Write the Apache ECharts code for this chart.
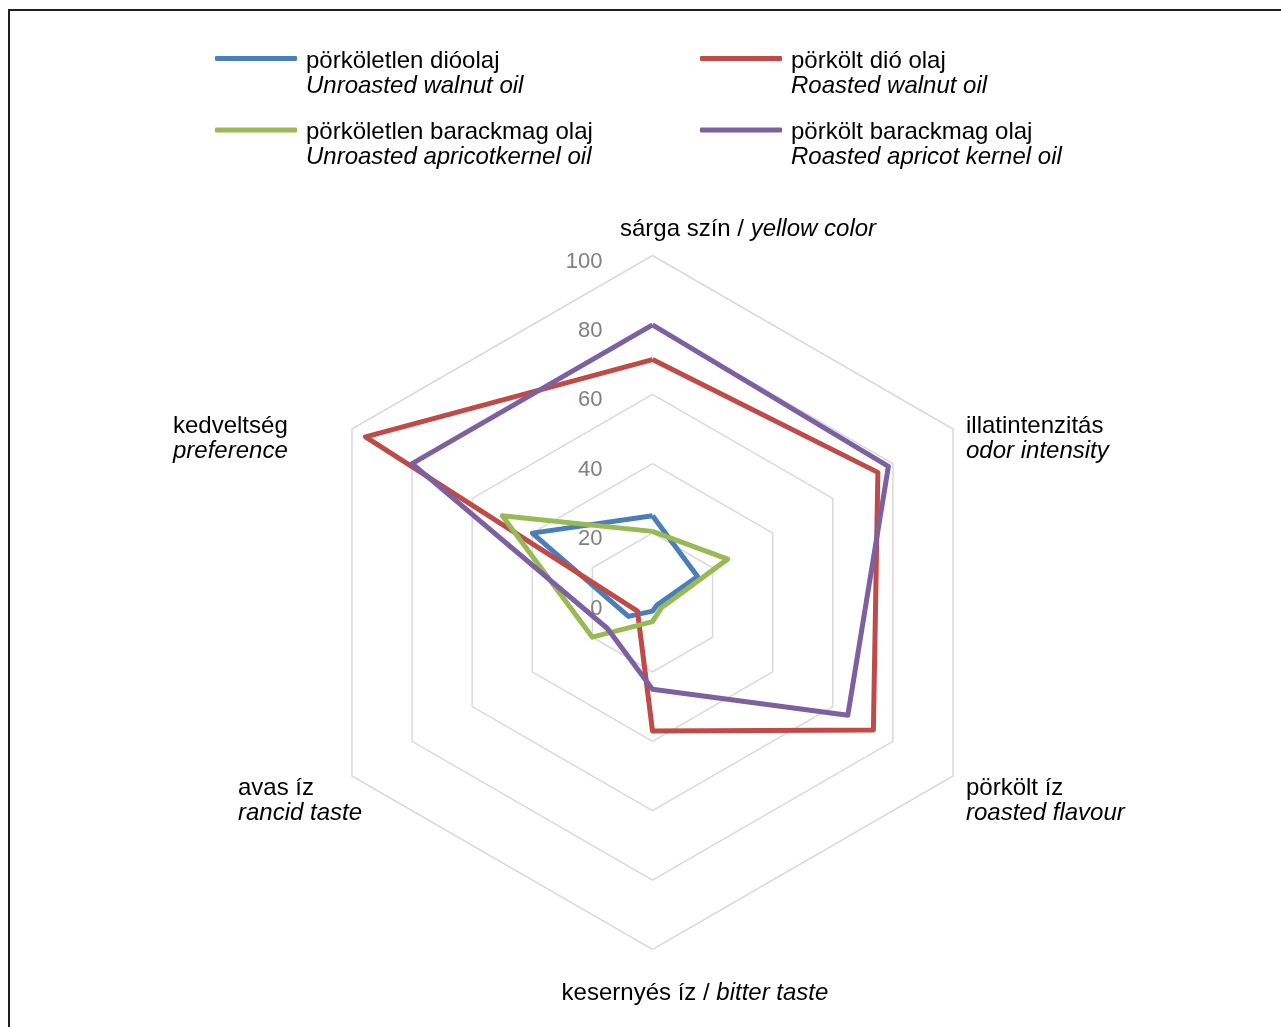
<!DOCTYPE html>
<html>
<head>
<meta charset="utf-8">
<script src="https://cdn.jsdelivr.net/npm/echarts@6/dist/echarts.min.js"></script>
<style>
  html, body { margin: 0; padding: 0; background: #fff; }
  #chart-box { width: 1281px; height: 1027px; }
</style>
</head>
<body>
<div id="chart-box"></div>
<script>
// tengelyek (az ECharts sorrendjében: felül kezdve, az óramutatóval ellentétesen)
var indicatorHu = ['sárga szín', 'kedveltség', 'avas íz', 'kesernyés íz', 'pörkölt íz', 'illatintenzitás'];
var indicatorEn = ['yellow color', 'preference', 'rancid taste', 'bitter taste', 'roasted flavour', 'odor intensity'];
var scaleMin = 0, scaleMax = 100, scaleSplit = 5;

// sorozatok
var seriesHu = ['pörköletlen dióolaj', 'pörkölt dió olaj', 'pörköletlen barackmag olaj', 'pörkölt barackmag olaj'];
var seriesEn = ['Unroasted walnut oil', 'Roasted walnut oil', 'Unroasted apricotkernel oil', 'Roasted apricot kernel oil'];
var seriesColor = ['#4a7ebb', '#be4b48', '#98b954', '#7d60a0'];

var unroastedWalnut  = [25, 40, 8, 2.5, 1.5, 15];
var roastedWalnut    = [70, 95.5, 5, 37, 73.5, 75];
var unroastedApricot = [20.5, 50, 20, 5.5, 3, 25];
var roastedApricot   = [80, 80, 15, 25, 65, 78.5];
var seriesValues = [unroastedWalnut, roastedWalnut, unroastedApricot, roastedApricot];

var FONT = 'Liberation Sans';
var myChart = echarts.init(document.getElementById('chart-box'));

// tengelynevek formázása (stílus kulcsok indexenként)
function axisNameFmt(value) {
	var i = indicatorHu.indexOf(value);
	var en = indicatorEn[i];
	switch (i) {
		case 0: return '{tn|' + value + ' / }{ti|' + en + '}';
		case 1: return '{gs| }\n{ln|' + value + '}\n{li|' + en + '}';
		case 2: return '{gs| }\n{rn|' + value + '}\n{ri|' + en + '}';
		case 3: return '{gb| }\n{bn|' + value + ' / }{bi|' + en + '}';
		default: return '{gs| }\n{sn|' + value + '}\n{si|' + en + '}';
	}
}

function legendFmt(name) {
	var i = seriesHu.indexOf(name);
	return '{e| }\n{a|' + name + '}\n{b|' + seriesEn[i] + '}';
}

var legendRich = {
	e: { fontSize: 24, lineHeight: 30, fontFamily: FONT },
	a: { fontSize: 24, lineHeight: 25, fontFamily: FONT, color: '#000', padding: [0, 0, 0, 4] },
	b: { fontSize: 24, lineHeight: 25, fontFamily: FONT, color: '#000', fontStyle: 'italic', padding: [0, 0, 0, 4] }
};

var legendPos = [[215, 21.5], [700, 21.5], [215, 93], [700, 93]];
var legends = seriesHu.map(function(name, i) {
	return {
		data: [{ name: name, icon: 'roundRect' }],
		left: legendPos[i][0],
		top: legendPos[i][1],
		padding: 0,
		itemWidth: 82,
		itemHeight: 5,
		selectedMode: false,
		formatter: legendFmt,
		textStyle: { rich: legendRich }
	};
});

var indicators = indicatorHu.map(function(name, i) {
	var ind = { name: name, min: scaleMin, max: scaleMax };
	if (i === 0) ind.axisLabel = { show: true };
	return ind;
});

var option = {
	animation: false,
	backgroundColor: '#fff',
	graphic: [{
		type: 'rect',
		shape: { x: 9, y: 10, width: 1400, height: 1200 },
		style: { fill: 'none', stroke: '#231f20', lineWidth: 2 },
		silent: true
	}],
	legend: legends,
	radar: {
		center: [652.5, 602.5],
		radius: 347,
		shape: 'polygon',
		splitNumber: scaleSplit,
		nameGap: 15,
		indicator: indicators,
		axisName: {
			color: '#000',
			fontSize: 24,
			lineHeight: 25,
			fontFamily: FONT,
			formatter: axisNameFmt,
			rich: {
				gs: { fontSize: 12, lineHeight: 35, fontFamily: FONT },
				gb: { fontSize: 12, lineHeight: 16, fontFamily: FONT },
				tn: { fontSize: 24, lineHeight: 22, fontFamily: FONT, color: '#000', padding: [0, 0, 0, 191] },
				ti: { fontSize: 24, lineHeight: 22, fontFamily: FONT, color: '#000', fontStyle: 'italic' },
				bn: { fontSize: 24, lineHeight: 25, fontFamily: FONT, color: '#000', padding: [0, 0, 0, 85] },
				bi: { fontSize: 24, lineHeight: 25, fontFamily: FONT, color: '#000', fontStyle: 'italic' },
				ln: { fontSize: 24, lineHeight: 25, fontFamily: FONT, color: '#000', width: 166, align: 'left' },
				li: { fontSize: 24, lineHeight: 25, fontFamily: FONT, color: '#000', width: 166, align: 'left', fontStyle: 'italic' },
				rn: { fontSize: 24, lineHeight: 25, fontFamily: FONT, color: '#000', width: 101, align: 'left' },
				ri: { fontSize: 24, lineHeight: 25, fontFamily: FONT, color: '#000', width: 101, align: 'left', fontStyle: 'italic' },
				sn: { fontSize: 24, lineHeight: 25, fontFamily: FONT, color: '#000' },
				si: { fontSize: 24, lineHeight: 25, fontFamily: FONT, color: '#000', fontStyle: 'italic' }
			}
		},
		axisLine: { show: false },
		axisTick: { show: false },
		axisLabel: {
			show: false,
			color: '#808080',
			fontSize: 22,
			fontFamily: FONT,
			margin: 50,
			verticalAlign: 'top',
			lineHeight: 12
		},
		splitArea: { show: false },
		splitLine: { lineStyle: { color: '#d9d9d9', width: 1.5 } }
	},
	series: [{
		type: 'radar',
		symbol: 'none',
		data: seriesValues.map(function(vals, i) {
			return {
				name: seriesHu[i],
				value: vals,
				itemStyle: { color: seriesColor[i] },
				lineStyle: { color: seriesColor[i], width: 5 }
			};
		})
	}]
};

myChart.setOption(option);
</script>
</body>
</html>
